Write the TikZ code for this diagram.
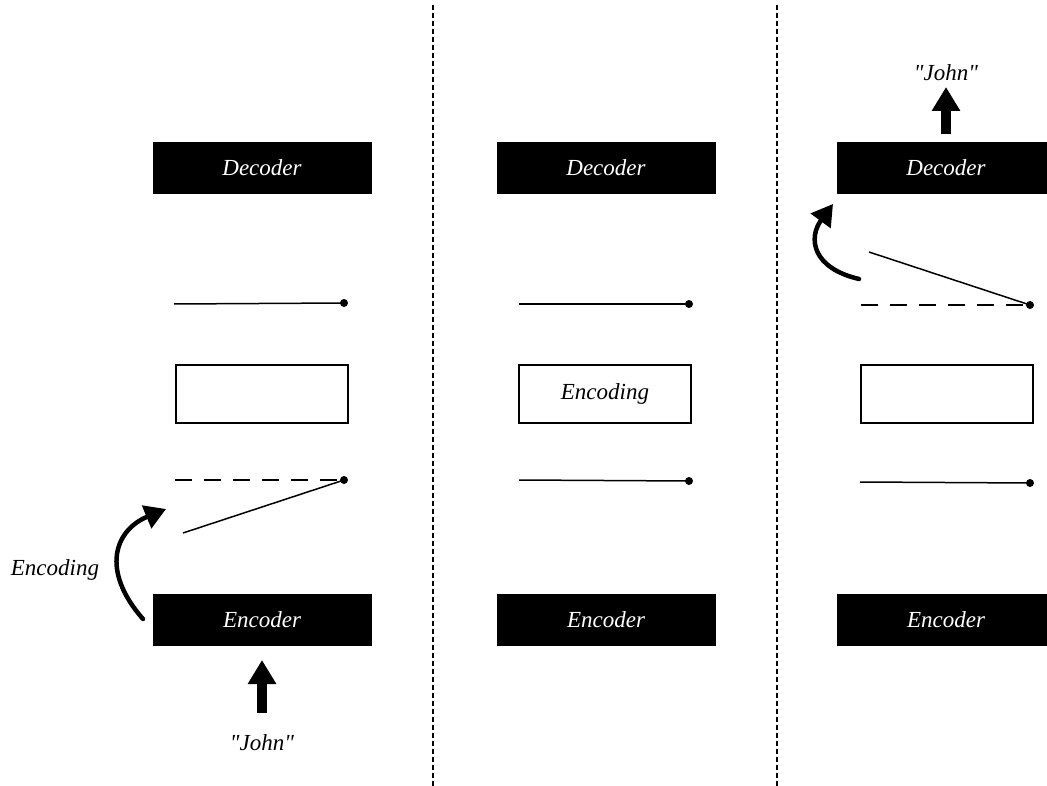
\documentclass[tikz,border=0pt]{standalone}
\usepackage{fontspec}
\setmainfont{Liberation Serif}[Ligatures=TeXOff]
\usetikzlibrary{arrows.meta}
\begin{document}
\begin{tikzpicture}[x=1pt,y=-1pt,
  blk/.style={fill=black,draw=black,minimum width=218pt,minimum height=51pt,inner sep=0pt,text=white,font=\fontsize{23}{27}\selectfont\itshape},
  emptybox/.style={draw=black,line width=1.8pt,minimum width=172pt,minimum height=58pt,inner sep=0pt,font=\fontsize{23}{27}\selectfont\itshape},
  lbl/.style={font=\fontsize{23}{27}\selectfont\itshape,inner sep=1pt},
  bar/.style={line width=1.5pt},
  dashbar/.style={line width=1.5pt,dash pattern=on 17pt off 12pt},
  pivot/.style={circle,fill=black,inner sep=0pt,minimum size=8pt},
  fat/.style={line width=10pt,-{Triangle[length=24pt,width=27pt]}},
  curvy/.style={line width=4.5pt,line cap=round,-{Triangle[length=21pt,width=24pt]}},
  sep/.style={line width=1.6pt,dash pattern=on 5pt off 3pt}
]
\useasboundingbox (0,0) rectangle (1047,786);
\clip (0,0) rectangle (1047,786);

% separators
\coordinate (s1t) at (433,5); \coordinate (s1b) at (433,786);
\coordinate (s2t) at (777,5); \coordinate (s2b) at (777,786);
\draw[sep] (s1t) -- (s1b);
\draw[sep] (s2t) -- (s2b);

% ---------- left panel ----------
\node[blk] (dec1) at (262,168) {Decoder};
\coordinate (a1) at (174,304);
\node[pivot] (p1) at (344,303) {};
\draw[bar] (a1) -- (p1.center);
\node[emptybox] (m1) at (262,394) {};
\coordinate (d1) at (175,480);
\node[pivot] (q1) at (344,480) {};
\draw[dashbar] (d1) -- (q1.center);
\coordinate (l1) at (183,533);
\draw[bar] (l1) -- (q1.center);
\node[blk] (enc1) at (262,619.5) {Encoder};
\node[lbl] (encl) at (55,570) {Encoding};
\coordinate (c1s) at (143,619);
\coordinate (c1e) at (166,509);
\draw[curvy] (c1s) .. controls (100,570) and (115,530) .. (c1e);
\node[lbl] (john1) at (262,743) {"John"};
\coordinate (f1s) at (262,713);
\coordinate (f1e) at (262,660);
\draw[fat] (f1s) -- (f1e);

% ---------- middle panel ----------
\node[blk] (dec2) at (606,168) {Decoder};
\coordinate (a2) at (519,304);
\node[pivot] (p2) at (689,304) {};
\draw[bar] (a2) -- (p2.center);
\node[emptybox] (m2) at (605,394) {Encoding};
\coordinate (a3) at (519,480);
\node[pivot] (p3) at (689,481) {};
\draw[bar] (a3) -- (p3.center);
\node[blk] (enc2) at (606,619.5) {Encoder};

% ---------- right panel ----------
\node[blk] (dec3) at (946,168) {Decoder};
\node[lbl] (john2) at (946,73) {"John"};
\coordinate (f2s) at (946,134);
\coordinate (f2e) at (946,87);
\draw[fat] (f2s) -- (f2e);
\coordinate (d3) at (861,305);
\node[pivot] (q3) at (1030,305) {};
\draw[dashbar] (d3) -- (q3.center);
\coordinate (l3) at (869,252);
\draw[bar] (l3) -- (q3.center);
\coordinate (c3s) at (859,279);
\coordinate (c3e) at (833,204);
\draw[curvy] (c3s) .. controls (812,268) and (808,238) .. (c3e);
\node[emptybox] (m3) at (947,394) {};
\coordinate (a4) at (860,482);
\node[pivot] (p4) at (1030,483) {};
\draw[bar] (a4) -- (p4.center);
\node[blk] (enc3) at (946,619.5) {Encoder};
\end{tikzpicture}
\end{document}
